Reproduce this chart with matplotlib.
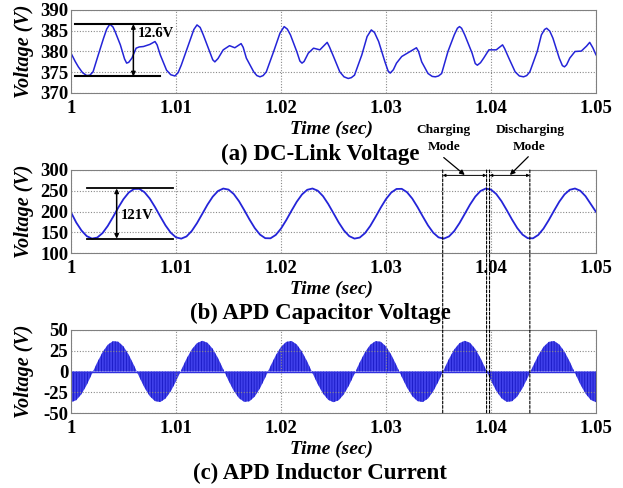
import matplotlib
matplotlib.use('Agg')
import matplotlib.pyplot as plt
from matplotlib.patches import ConnectionPatch


t_dc = [1.0000, 1.0004, 1.0007, 1.0011, 1.0015, 1.0018, 1.0021, 1.0026, 1.0031, 1.0034,
        1.0037, 1.0040, 1.0042, 1.0047, 1.0051, 1.0053, 1.0055, 1.0058, 1.0062, 1.0065,
        1.0069, 1.0075, 1.0080, 1.0082, 1.0085, 1.0091, 1.0095, 1.0099, 1.0102, 1.0105,
        1.0113, 1.0117, 1.0120, 1.0123, 1.0126, 1.0132, 1.0135, 1.0137, 1.0140, 1.0145,
        1.0151, 1.0156, 1.0162, 1.0164, 1.0167, 1.0174, 1.0177, 1.0180, 1.0183, 1.0186,
        1.0193, 1.0199, 1.0203, 1.0206, 1.0209, 1.0215, 1.0218, 1.0220, 1.0222, 1.0226,
        1.0231, 1.0237, 1.0244, 1.0246, 1.0250, 1.0256, 1.0260, 1.0264, 1.0267, 1.0270,
        1.0277, 1.0282, 1.0286, 1.0289, 1.0293, 1.0299, 1.0302, 1.0304, 1.0307, 1.0310,
        1.0315, 1.0323, 1.0329, 1.0331, 1.0334, 1.0340, 1.0344, 1.0347, 1.0350, 1.0353,
        1.0359, 1.0365, 1.0368, 1.0370, 1.0372, 1.0375, 1.0382, 1.0385, 1.0387, 1.0390,
        1.0393, 1.0398, 1.0405, 1.0411, 1.0413, 1.0417, 1.0423, 1.0427, 1.0431, 1.0434,
        1.0437, 1.0444, 1.0448, 1.0451, 1.0453, 1.0456, 1.0459, 1.0465, 1.0468, 1.0470,
        1.0472, 1.0475, 1.0480, 1.0486, 1.0491, 1.0494, 1.0497, 1.0500]
v_dc = [379.6, 377.6, 376.3, 374.9, 374.2, 374.3, 375.1, 379.2, 383.2, 385.4,
        386.6, 385.9, 384.8, 381.6, 378.2, 377.2, 377.4, 378.4, 380.8, 381.1,
        381.2, 381.7, 382.4, 381.6, 379.2, 375.5, 374.4, 374.1, 374.9, 376.7,
        382.4, 385.3, 386.4, 385.8, 384.0, 380.0, 378.0, 377.5, 378.3, 380.4,
        381.4, 380.9, 381.9, 381.0, 378.4, 375.1, 374.2, 373.9, 374.2, 375.1,
        380.0, 384.4, 386.0, 385.4, 384.0, 380.0, 377.7, 377.2, 377.6, 379.6,
        380.8, 380.4, 382.2, 381.2, 378.8, 375.1, 373.9, 373.5, 373.7, 374.3,
        379.2, 383.6, 385.2, 384.6, 382.4, 377.5, 375.3, 374.8, 375.6, 377.2,
        378.8, 380.0, 380.9, 380.0, 377.5, 374.7, 374.0, 373.9, 374.1, 374.7,
        380.0, 384.0, 385.6, 386.0, 385.6, 384.0, 379.6, 377.1, 376.7, 377.3,
        378.4, 380.4, 380.4, 381.6, 380.7, 378.4, 375.1, 374.1, 373.9, 374.2,
        375.1, 380.0, 384.0, 385.3, 385.6, 384.9, 383.2, 378.4, 376.6, 376.3,
        376.8, 378.4, 380.0, 380.1, 381.3, 382.2, 380.9, 379.2]

# (b) and (c) sample times
t_apd = [1.0000, 1.0005, 1.0010, 1.0015, 1.0020, 1.0025, 1.0030, 1.0035, 1.0040, 1.0045,
         1.0050, 1.0055, 1.0060, 1.0065, 1.0070, 1.0075, 1.0080, 1.0085, 1.0090, 1.0095,
         1.0100, 1.0105, 1.0110, 1.0115, 1.0120, 1.0125, 1.0130, 1.0135, 1.0140, 1.0145,
         1.0150, 1.0155, 1.0160, 1.0165, 1.0170, 1.0175, 1.0180, 1.0185, 1.0190, 1.0195,
         1.0200, 1.0205, 1.0210, 1.0215, 1.0220, 1.0225, 1.0230, 1.0235, 1.0240, 1.0245,
         1.0250, 1.0255, 1.0260, 1.0265, 1.0270, 1.0275, 1.0280, 1.0285, 1.0290, 1.0295,
         1.0300, 1.0305, 1.0310, 1.0315, 1.0320, 1.0325, 1.0330, 1.0335, 1.0340, 1.0345,
         1.0350, 1.0355, 1.0360, 1.0365, 1.0370, 1.0375, 1.0380, 1.0385, 1.0390, 1.0395,
         1.0400, 1.0405, 1.0410, 1.0415, 1.0420, 1.0425, 1.0430, 1.0435, 1.0440, 1.0445,
         1.0450, 1.0455, 1.0460, 1.0465, 1.0470, 1.0475, 1.0480, 1.0485, 1.0490, 1.0495,
         1.0500]

# (b) APD capacitor voltage
v_cap = [198.0, 173.4, 154.2, 140.6, 134.7, 137.2, 147.9, 165.2, 186.7, 209.3,
         229.9, 245.7, 254.3, 254.6, 246.5, 231.2, 210.8, 188.2, 166.5, 148.9,
         137.7, 134.6, 139.9, 153.0, 172.0, 194.2, 216.6, 235.8, 249.4, 255.3,
         252.8, 242.1, 224.8, 203.3, 180.7, 160.1, 144.3, 135.7, 135.4, 143.5,
         158.8, 179.2, 201.8, 223.5, 241.1, 252.3, 255.4, 250.1, 237.0, 218.0,
         195.8, 173.4, 154.2, 140.6, 134.7, 137.2, 147.9, 165.2, 186.7, 209.3,
         229.9, 245.7, 254.3, 254.6, 246.5, 231.2, 210.8, 188.2, 166.5, 148.9,
         137.7, 134.6, 139.9, 153.0, 172.0, 194.2, 216.6, 235.8, 249.4, 255.3,
         252.8, 242.1, 224.8, 203.3, 180.7, 160.1, 144.3, 135.7, 135.4, 143.5,
         158.8, 179.2, 201.8, 223.5, 241.1, 252.3, 255.4, 250.1, 237.0, 218.0,
         199.0]

# (c) APD inductor current envelope
i_ind = [-37.0, -34.6, -27.3, -16.2, -2.8, 11.0, 23.2, 32.2, 36.6, 35.9,
         30.2, 20.2, 7.4, -6.5, -19.4, -29.7, -35.7, -36.8, -32.6, -23.9,
         -11.9, 1.9, 15.3, 26.6, 34.2, 37.0, 34.6, 27.3, 16.2, 2.8,
         -11.0, -23.2, -32.2, -36.6, -35.9, -30.2, -20.2, -7.4, 6.5, 19.4,
         29.7, 35.7, 36.8, 32.6, 23.9, 11.9, -1.9, -15.3, -26.6, -34.2,
         -37.0, -34.6, -27.3, -16.2, -2.8, 11.0, 23.2, 32.2, 36.6, 35.9,
         30.2, 20.2, 7.4, -6.5, -19.4, -29.7, -35.7, -36.8, -32.6, -23.9,
         -11.9, 1.9, 15.3, 26.6, 34.2, 37.0, 34.6, 27.3, 16.2, 2.8,
         -11.0, -23.2, -32.2, -36.6, -35.9, -30.2, -20.2, -7.4, 6.5, 19.4,
         29.7, 35.7, 36.8, 32.6, 23.9, 11.9, -1.9, -15.3, -26.6, -34.2,
         -37.0]

x_ticks = [1.0, 1.01, 1.02, 1.03, 1.04, 1.05]
x_labels = ['1', '1.01', '1.02', '1.03', '1.04', '1.05']
y_ticks_a = [370, 375, 380, 385, 390]
y_ticks_b = [100, 150, 200, 250, 300]
y_ticks_c = [-50, -25, 0, 25, 50]

swing_a = [374.0, 386.6]      # 12.6V
swing_b = [134.5, 255.5]      # 121V
mode_edges = [1.0354, 1.03958, 1.03986, 1.0437]

BLUE = '#2424d8'

plt.rcParams['font.family'] = ['Liberation Serif', 'DejaVu Serif']
plt.rcParams['font.weight'] = 'bold'
plt.rcParams['axes.unicode_minus'] = False
plt.rcParams['hatch.linewidth'] = 0.6


def setup_axes(ax, yticks):
    ax.set_xlim(1.0, 1.05)
    ax.set_ylim(yticks[0], yticks[-1])
    ax.set_xticks(x_ticks)
    ax.set_xticklabels(x_labels)
    ax.set_yticks(yticks)
    ax.tick_params(axis='both', length=0, labelsize=13.5)
    ax.tick_params(axis='x', pad=5)
    ax.tick_params(axis='y', pad=2)
    for lab in ax.get_xticklabels() + ax.get_yticklabels():
        lab.set_fontweight('bold')
    ax.grid(True, color='#8a8a8a', linestyle=(0, (1, 1.5)), lw=0.8)
    for s in ax.spines.values():
        s.set_color('#808080')
        s.set_linewidth(0.8)


fig = plt.figure(figsize=(6.23, 4.88), dpi=100)
left = 71 / 623
width = 525 / 623
h = 83 / 488
ax_a = fig.add_axes([left, 1 - 93 / 488, width, h])
ax_b = fig.add_axes([left, 1 - 253 / 488, width, h])
ax_c = fig.add_axes([left, 1 - 413 / 488, width, h])

# (a)
ax_a.plot(t_dc, v_dc, color=BLUE, lw=1.1)
setup_axes(ax_a, y_ticks_a)
for v in swing_a:
    ax_a.plot([1.0004, 1.0085], [v, v], color='black', lw=1.5)
ax_a.annotate('', xy=(1.00594, swing_a[1]), xytext=(1.00594, swing_a[0]),
              arrowprops=dict(arrowstyle='<|-|>', color='black', lw=1.1,
                              mutation_scale=6, shrinkA=0, shrinkB=0))
ax_a.text(1.0064, 384.3, '12.6V', fontsize=10.5, weight='bold', va='center')

# (b)
ax_b.plot(t_apd, v_cap, color=BLUE, lw=1.3)
setup_axes(ax_b, y_ticks_b)
for v in swing_b:
    ax_b.plot([1.00155, 1.00975], [v, v], color='black', lw=1.3)
ax_b.annotate('', xy=(1.00435, swing_b[1]), xytext=(1.00435, swing_b[0]),
              arrowprops=dict(arrowstyle='<|-|>', color='black', lw=1.1,
                              mutation_scale=6, shrinkA=0, shrinkB=0))
ax_b.text(1.0047, 191, '121V', fontsize=10.5, weight='bold', va='center')

# charging / discharging dimension arrows
for a, b in [(mode_edges[0], mode_edges[1]), (mode_edges[2], mode_edges[3])]:
    ax_b.annotate('', xy=(b, 287), xytext=(a, 287),
                  arrowprops=dict(arrowstyle='<|-|>', color='black', lw=0.7,
                                  mutation_scale=4, shrinkA=0, shrinkB=0))
ax_b.annotate('', xy=(1.0375, 288), xytext=(1.0355, 330),
              arrowprops=dict(arrowstyle='-|>', color='black', lw=0.9,
                              mutation_scale=7, shrinkA=0, shrinkB=0),
              annotation_clip=False)
ax_b.annotate('', xy=(1.0418, 288), xytext=(1.04355, 332),
              arrowprops=dict(arrowstyle='-|>', color='black', lw=0.9,
                              mutation_scale=7, shrinkA=0, shrinkB=0),
              annotation_clip=False)
ax_b.text(1.03543, 396, 'Charging', fontsize=9.6, weight='bold', ha='center', va='center', clip_on=False)
ax_b.text(1.0355, 355, 'Mode', fontsize=9.6, weight='bold', ha='center', va='center', clip_on=False)
ax_b.text(1.0437, 396, 'Discharging', fontsize=9.6, weight='bold', ha='center', va='center', clip_on=False)
ax_b.text(1.0436, 355, 'Mode', fontsize=9.6, weight='bold', ha='center', va='center', clip_on=False)

# (c)
ax_c.fill_between(t_apd, 0, i_ind, facecolor='#4040ea', edgecolor='#1818c4',
                  hatch='||||||', lw=0)
ax_c.plot([1.0, 1.05], [0, 0], color='#3030e0', lw=1.0)
setup_axes(ax_c, y_ticks_c)

# dashed mode boundaries across (b) and (c)
for t in mode_edges:
    con = ConnectionPatch(xyA=(t, 300), coordsA=ax_b.transData,
                          xyB=(t, -50), coordsB=ax_c.transData,
                          color='black', lw=0.8, linestyle=(0, (2.5, 1.5)))
    fig.add_artist(con)

# labels
for ax, ty, title, tt in [(ax_a, 129, '(a) DC-Link Voltage', 154),
                          (ax_b, 289, '(b) APD Capacitor Voltage', 313),
                          (ax_c, 449, '(c) APD Inductor Current', 473)]:
    pos = ax.get_position()
    fig.text(24 / 623, pos.y0 + pos.height / 2, 'Voltage (V)', rotation=90,
             ha='center', va='center', fontsize=14.5, weight='bold', style='italic')
    fig.text(331 / 623, 1 - ty / 488, 'Time (sec)', ha='center', va='center',
             fontsize=14, weight='bold', style='italic')
    fig.text(320 / 623, 1 - tt / 488, title, ha='center', va='center',
             fontsize=16.5, weight='bold')

plt.savefig('out.png', dpi=100)
